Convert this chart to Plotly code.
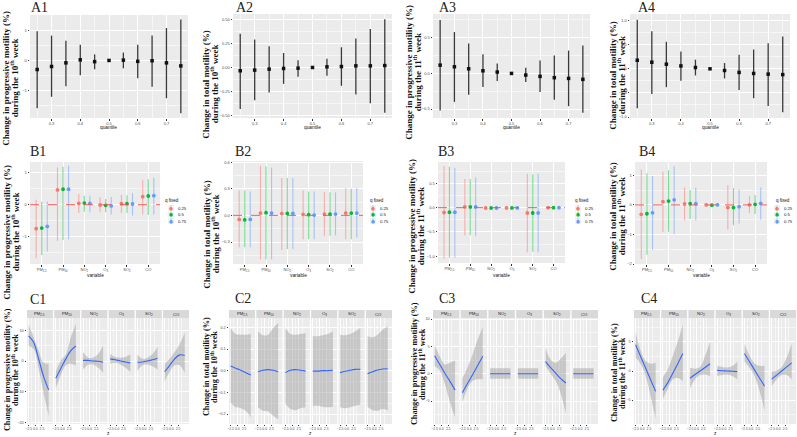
import plotly.graph_objects as go

W, H = 797, 437

# ---------- data ----------
QUANTILES = [0.25, 0.30, 0.35, 0.40, 0.45, 0.50, 0.55, 0.60, 0.65, 0.70, 0.75]

A1_EST = [-0.30, -0.20, -0.08, 0.02, -0.04, 0.00, 0.01, -0.03, -0.01, -0.08, -0.18]
A1_HI = [0.96, 0.82, 0.65, 0.52, 0.20, 0.00, 0.26, 0.52, 0.82, 1.07, 1.35]
A1_LO = [-1.58, -1.20, -0.85, -0.49, -0.29, 0.00, -0.26, -0.59, -0.87, -1.25, -1.74]

A2_EST = [-0.034, -0.027, -0.017, -0.010, -0.007, 0.0, 0.007, 0.010, 0.017, 0.017, 0.020]
A2_HI = [0.35, 0.29, 0.22, 0.15, 0.075, 0.0, 0.09, 0.21, 0.30, 0.40, 0.50]
A2_LO = [-0.43, -0.34, -0.26, -0.17, -0.096, 0.0, -0.085, -0.19, -0.28, -0.37, -0.47]

A3_EST = [0.116, 0.093, 0.065, 0.037, 0.019, 0.0, -0.023, -0.042, -0.060, -0.070, -0.083]
A3_HI = [0.75, 0.58, 0.42, 0.27, 0.14, 0.0, 0.08, 0.18, 0.25, 0.32, 0.39]
A3_LO = [-0.52, -0.40, -0.30, -0.19, -0.106, 0.0, -0.12, -0.26, -0.37, -0.46, -0.55]

A4_EST = [0.178, 0.137, 0.096, 0.060, 0.027, 0.0, -0.034, -0.075, -0.096, -0.110, -0.120]
A4_HI = [1.02, 0.78, 0.56, 0.36, 0.19, 0.0, 0.12, 0.29, 0.40, 0.53, 0.67]
A4_LO = [-0.82, -0.52, -0.38, -0.25, -0.137, 0.0, -0.20, -0.44, -0.61, -0.77, -0.90]

VARIABLES = ["PM<sub>2.5</sub>", "PM<sub>10</sub>", "NO<sub>2</sub>", "O<sub>3</sub>",
             "SO<sub>2</sub>", "CO"]
Q_FIXED = ["0.25", "0.5", "0.75"]

# rows = q fixed 0.25 / 0.5 / 0.75, columns = VARIABLES
B1_EST = [[-0.75, 0.46, 0.04, -0.01, 0.03, 0.25],
          [-0.73, 0.48, 0.05, -0.02, 0.03, 0.27],
          [-0.68, 0.48, 0.04, -0.04, 0.02, 0.28]]
B1_HI = [[0.15, 1.16, 0.33, 0.23, 0.31, 0.77],
         [0.09, 1.18, 0.28, 0.18, 0.29, 0.79],
         [0.10, 1.21, 0.28, 0.24, 0.36, 0.84]]
B1_LO = [[-1.67, -1.13, -0.26, -0.24, -0.26, -0.31],
         [-1.57, -1.10, -0.22, -0.24, -0.26, -0.32],
         [-1.46, -1.08, -0.24, -0.31, -0.34, -0.31]]

B2_EST = [[-0.045, 0.026, 0.020, 0.011, 0.015, 0.026],
          [-0.050, 0.030, 0.022, 0.008, 0.015, 0.026],
          [-0.045, 0.026, 0.022, 0.004, 0.015, 0.026]]
B2_HI = [[0.28, 0.56, 0.42, 0.28, 0.26, 0.31],
         [0.28, 0.555, 0.42, 0.27, 0.26, 0.30],
         [0.27, 0.54, 0.42, 0.27, 0.26, 0.31]]
B2_LO = [[-0.36, -0.495, -0.39, -0.27, -0.23, -0.27],
         [-0.36, -0.495, -0.38, -0.27, -0.23, -0.27],
         [-0.36, -0.495, -0.38, -0.27, -0.225, -0.25]]

B3_EST = [[-0.10, 0.014, -0.007, -0.005, -0.11, 0.0],
          [-0.095, 0.014, -0.007, -0.005, -0.11, 0.0],
          [-0.095, 0.014, -0.007, -0.005, -0.11, 0.0]]
B3_HI = [[0.86, 0.59, 0.02, 0.015, 0.70, 0.02],
         [0.84, 0.59, 0.02, 0.015, 0.69, 0.02],
         [0.82, 0.62, 0.02, 0.015, 0.70, 0.02]]
B3_LO = [[-1.05, -0.57, -0.03, -0.025, -0.92, -0.02],
         [-1.03, -0.57, -0.03, -0.025, -0.91, -0.02],
         [-1.03, -0.59, -0.03, -0.025, -0.92, -0.02]]

B4_EST = [[-0.32, 0.11, 0.03, 0.0, -0.09, 0.0],
          [-0.30, 0.13, 0.04, -0.01, -0.09, 0.02],
          [-0.27, 0.17, 0.04, 0.0, -0.06, 0.05]]
B4_HI = [[1.20, 1.12, 0.59, 0.05, 0.67, 0.29],
         [1.07, 1.17, 0.50, 0.04, 0.57, 0.33],
         [0.98, 1.31, 0.59, 0.05, 0.51, 0.59]]
B4_LO = [[-1.83, -0.91, -0.52, -0.05, -0.83, -0.28],
         [-1.69, -0.91, -0.48, -0.06, -0.69, -0.31],
         [-1.52, -0.99, -0.52, -0.05, -0.63, -0.50]]

FACETS = ["PM<sub>2.5</sub>", "PM<sub>10</sub>", "NO<sub>2</sub>", "O<sub>3</sub>",
          "SO<sub>2</sub>", "CO"]
Z_GRID = [-2.5, -0.625, 1.25, 3.125, 5.0]

C1_FIT = [[8.2, 6.1, 0.7, -5.1, -9.4], [-5.6, -2.4, 0.7, 3.4, 4.9], [0.2, 0.2, 0.0, -0.1, -0.4],
          [0.7, 0.4, 0.0, -0.3, -0.6], [-0.4, -0.3, 0.0, 0.4, 0.9], [-3.5, -1.4, 0.7, 2.0, 1.8]]
C1_HI = [[11.9, 7.7, 3.4, -0.6, -0.9], [-3.5, 0.2, 2.1, 7.7, 12.1], [2.9, 1.1, 1.1, 2.3, 5.0],
         [2.3, 1.3, 1.1, 1.3, 2.1], [2.1, 0.7, 1.1, 2.3, 4.5], [-0.9, 0.7, 2.9, 5.5, 9.3]]
C1_LO = [[5.0, 3.9, -2.4, -10.4, -17.9], [-8.8, -4.6, -1.4, -0.9, -1.4], [-2.8, -1.2, -1.1, -2.1, -3.8],
         [-0.9, -0.6, -1.1, -2.1, -3.5], [-3.2, -1.4, -1.1, -1.7, -2.8], [-6.7, -3.5, -1.4, -1.4, -4.0]]

C2_FIT = [[0.021, 0.011, 0.002, -0.009, -0.020], [-0.005, 0.002, 0.005, 0.002, -0.005],
          [-0.009, 0.002, 0.005, 0.002, -0.002], [-0.002, -0.002, 0.0, 0.0, 0.002],
          [-0.009, -0.003, 0.002, 0.006, 0.006], [-0.014, -0.005, 0.003, 0.008, 0.009]]
C2_HI = [[0.197, 0.169, 0.166, 0.166, 0.169], [0.182, 0.163, 0.166, 0.197, 0.220],
         [0.197, 0.169, 0.166, 0.169, 0.174], [0.159, 0.159, 0.163, 0.169, 0.182],
         [0.166, 0.163, 0.169, 0.182, 0.197], [0.159, 0.154, 0.166, 0.189, 0.205]]
C2_LO = [[-0.147, -0.169, -0.173, -0.185, -0.215], [-0.169, -0.185, -0.188, -0.208, -0.223],
         [-0.154, -0.177, -0.182, -0.173, -0.169], [-0.162, -0.162, -0.166, -0.169, -0.166],
         [-0.169, -0.173, -0.169, -0.162, -0.157], [-0.166, -0.182, -0.185, -0.177, -0.182]]

C3_FIT = [[3.3, 1.7, 0.1, -1.4, -3.0], [-3.5, -1.8, -0.2, 1.5, 3.2], [0.0, 0.0, 0.0, 0.0, 0.0],
          [0.0, 0.0, 0.0, 0.0, 0.0], [2.2, 1.1, 0.1, -0.9, -1.7], [0.0, 0.0, 0.0, 0.0, 0.0]]
C3_HI = [[5.2, 3.2, 1.7, 2.0, 2.4], [-0.8, 1.1, 3.5, 6.2, 8.6], [1.0, 1.0, 1.0, 1.0, 1.0],
         [1.0, 1.0, 1.0, 1.0, 1.0], [4.7, 2.6, 2.0, 2.8, 3.8], [1.0, 1.0, 1.0, 1.0, 1.0]]
C3_LO = [[1.4, 0.6, -1.9, -5.2, -8.0], [-5.2, -2.8, -1.3, -1.0, -1.0], [-0.9, -0.9, -0.9, -0.9, -0.9],
         [-0.9, -0.9, -0.9, -0.9, -0.9], [1.4, 0.0, -1.3, -3.7, -7.3], [-0.9, -0.9, -0.9, -0.9, -0.9]]

C4_FIT = [[4.5, 2.5, 0.5, -1.5, -3.5], [-3.3, -2.0, -0.4, 1.3, 3.0], [-1.25, -0.6, 0.0, 0.6, 1.25],
          [0.1, 0.05, 0.0, -0.05, -0.1], [3.0, 1.6, 0.2, -1.2, -2.6], [-1.4, -0.7, 0.0, 0.7, 1.4]]
C4_HI = [[6.6, 3.5, 1.7, 1.25, 1.4], [-1.1, 0.3, 2.6, 5.1, 8.0], [0.6, 0.4, 0.7, 2.6, 5.0],
         [0.85, 0.7, 0.6, 0.85, 1.6], [4.7, 2.7, 1.3, 0.9, 0.9], [-0.1, 0.1, 0.7, 2.3, 4.7]]
C4_LO = [[2.3, 1.2, -0.8, -4.3, -8.2], [-4.8, -3.0, -1.4, -1.2, -1.7], [-3.0, -1.4, -0.7, -0.6, -0.85],
         [-0.85, -0.7, -0.6, -0.85, -1.4], [1.6, 0.6, -0.85, -3.4, -6.8], [-2.6, -1.4, -0.7, -0.7, -1.4]]

PROG = "Change in progressive motility (%)"
TOTAL = "Change in total motility (%)"
WEEK10 = "during the 10<sup>th</sup> week"
WEEK11 = "during the 11<sup>th</sup> week"

# ---------- styles ----------
Q_COLORS = ["#F8766D", "#00BA38", "#619CFF"]
Q_FADED = ["rgba(248,118,109,0.5)", "rgba(0,186,56,0.5)", "rgba(97,156,255,0.5)"]
DODGE = [-0.26, 0.0, 0.26]
TICK_FONT = dict(family="Liberation Sans", size=4, color="#4D4D4D")
TITLE_FONT = dict(family="Liberation Serif", size=9, color="#111111")
LABEL_FONT = dict(family="Liberation Serif", size=14, color="#222222")
SMALL_FONT = dict(family="Liberation Sans", size=4.8, color="#111111")
MINOR_GRID = "rgba(255,255,255,0.55)"

fig = go.Figure()
n_axes = [0]


def px_x(p):
    return p / W


def px_y(p):
    return 1 - p / H


def axis_style(**kw):
    d = dict(showgrid=True, gridcolor="white", gridwidth=0.6, zeroline=False, showline=False,
             ticks="outside", ticklen=1.5, tickwidth=0.4, tickcolor="#333333",
             tickfont=TICK_FONT, fixedrange=True, automargin=False, tickangle=0)
    d.update(kw)
    return d


def pane(x0, x1, y0, y1, xopts, yopts):
    n_axes[0] += 1
    n = n_axes[0]
    sfx = "" if n == 1 else str(n)
    fig.update_layout(**{
        f"xaxis{sfx}": dict(domain=[px_x(x0), px_x(x1)], anchor=f"y{sfx}", **xopts),
        f"yaxis{sfx}": dict(domain=[px_y(y1), px_y(y0)], anchor=f"x{sfx}", **yopts),
    })
    return f"x{sfx}", f"y{sfx}"


def note(text, x, y, font, **kw):
    fig.add_annotation(text=text, x=px_x(x), y=px_y(y), xref="paper", yref="paper",
                       showarrow=False, font=font, **kw)


def y_title(cx, cy, line1, line2, size=9):
    # two separate rotated lines, set closer together than plotly's own line height
    f = dict(TITLE_FONT, size=size)
    gap = size * 0.48
    note(f"<b>{line1}</b>", cx - gap, cy, f, textangle=-90, xanchor="center", yanchor="middle")
    note(f"<b>{line2}</b>", cx + gap, cy, f, textangle=-90, xanchor="center", yanchor="middle")


# ---------- row A: quantile estimates ----------
A_PANELS = [
    dict(label="A1", est=A1_EST, lo=A1_LO, hi=A1_HI, box=(30, 188, 15, 118), yr=[-1.9, 1.5],
         dtick=1, fmt="", title=(PROG, WEEK10), tpos=(10, 78), lpos=(29, -2)),
    dict(label="A2", est=A2_EST, lo=A2_LO, hi=A2_HI, box=(233, 392, 14, 118), yr=[-0.524, 0.555],
         dtick=0.25, fmt=".2f", title=(TOTAL, WEEK10), tpos=(210, 84), lpos=(234, -2)),
    dict(label="A3", est=A3_EST, lo=A3_LO, hi=A3_HI, box=(433, 590, 14, 118), yr=[-0.625, 0.833],
         dtick=0.5, fmt=".1f", title=(PROG, WEEK11), tpos=(413, 72), lpos=(437, -2)),
    dict(label="A4", est=A4_EST, lo=A4_LO, hi=A4_HI, box=(630, 790, 14, 118), yr=[-1.02, 1.137],
         dtick=0.5, fmt=".1f", title=(TOTAL, WEEK11), tpos=(617, 75), lpos=(636, -2)),
]

for p in A_PANELS:
    x0, x1, y0, y1 = p["box"]
    xa, ya = pane(x0, x1, y0, y1,
                  axis_style(range=[0.225, 0.775], tick0=0, dtick=0.1, tickformat=".1f",
                             minor=dict(showgrid=True, gridcolor=MINOR_GRID, gridwidth=0.3,
                                        tick0=0.05, dtick=0.1)),
                  axis_style(range=p["yr"], tick0=0, dtick=p["dtick"], tickformat=p["fmt"],
                             minor=dict(showgrid=True, gridcolor=MINOR_GRID, gridwidth=0.3,
                                        tick0=p["dtick"] / 2, dtick=p["dtick"])))
    fig.add_trace(go.Scatter(
        x=QUANTILES, y=p["est"], mode="markers", xaxis=xa, yaxis=ya,
        marker=dict(symbol="square", size=3.5, color="#111111"),
        error_y=dict(type="data", symmetric=False,
                     array=[h - e for h, e in zip(p["hi"], p["est"])],
                     arrayminus=[e - l for e, l in zip(p["est"], p["lo"])],
                     color="#3a3a3a", thickness=1.3, width=0),
        hoverinfo="skip"))
    note(p["label"], p["lpos"][0], p["lpos"][1], LABEL_FONT, xanchor="left", yanchor="top")
    y_title(p["tpos"][0], p["tpos"][1], *p["title"])
    note("quantile", (x0 + x1) / 2, 128, SMALL_FONT, xanchor="center", yanchor="middle")

# ---------- row B: pollutant effects by q fixed ----------
B_PANELS = [
    dict(label="B1", est=B1_EST, lo=B1_LO, hi=B1_HI, box=(30, 160, 162, 264), yr=[-1.85, 1.33],
         dtick=1, fmt="", title=(PROG, WEEK10), tpos=(11, 232), lpos=(28, 142), leg=(163, 171)),
    dict(label="B2", est=B2_EST, lo=B2_LO, hi=B2_HI, box=(233, 363, 161, 264), yr=[-0.548, 0.613],
         dtick=0.3, fmt=".1f", title=(TOTAL, WEEK10), tpos=(211, 234), lpos=(233, 142), leg=(368, 373)),
    dict(label="B3", est=B3_EST, lo=B3_LO, hi=B3_HI, box=(438, 565, 162, 263), yr=[-1.14, 0.94],
         dtick=0.5, fmt=".1f", title=(PROG, WEEK11), tpos=(416, 226), lpos=(436, 142), leg=(573, 578)),
    dict(label="B4", est=B4_EST, lo=B4_LO, hi=B4_HI, box=(635, 767, 162, 264), yr=[-2.0, 1.45],
         dtick=1, fmt="", title=(TOTAL, WEEK11), tpos=(617, 216), lpos=(637, 142), leg=(774, 777)),
]

LEGEND_ROWS = [208, 214.5, 221]

for p in B_PANELS:
    x0, x1, y0, y1 = p["box"]
    xa, ya = pane(x0, x1, y0, y1,
                  axis_style(range=[-0.55, 5.55], tickmode="array",
                             tickvals=list(range(len(VARIABLES))), ticktext=VARIABLES),
                  axis_style(range=p["yr"], tick0=0, dtick=p["dtick"], tickformat=p["fmt"],
                             minor=dict(showgrid=True, gridcolor=MINOR_GRID, gridwidth=0.3,
                                        tick0=p["dtick"] / 2, dtick=p["dtick"])))
    fig.add_shape(type="line", xref=f"{xa} domain", yref=ya, x0=0, x1=1, y0=0, y1=0,
                  line=dict(color="#F0504A", width=0.9, dash="dash"))
    for qi in range(len(Q_FIXED)):
        est, hi, lo = p["est"][qi], p["hi"][qi], p["lo"][qi]
        fig.add_trace(go.Scatter(
            x=[i + DODGE[qi] for i in range(len(VARIABLES))], y=est, mode="markers",
            xaxis=xa, yaxis=ya,
            marker=dict(symbol="circle", size=3.8, color=Q_COLORS[qi]),
            error_y=dict(type="data", symmetric=False,
                         array=[h - e for h, e in zip(hi, est)],
                         arrayminus=[e - l for e, l in zip(est, lo)],
                         color=Q_FADED[qi], thickness=1.1, width=0),
            hoverinfo="skip"))
    note(p["label"], p["lpos"][0], p["lpos"][1], LABEL_FONT, xanchor="left", yanchor="top")
    y_title(p["tpos"][0], p["tpos"][1], *p["title"])
    note("variable", (x0 + x1) / 2, 275, SMALL_FONT, xanchor="center", yanchor="middle")
    # legend "q fixed"
    lx, kx = p["leg"]
    note("q fixed", lx, 201, dict(SMALL_FONT, size=4.5), xanchor="left", yanchor="middle")
    for qi, q in enumerate(Q_FIXED):
        ky = LEGEND_ROWS[qi]
        fig.add_shape(type="rect", xref="paper", yref="paper",
                      x0=px_x(kx - 3), x1=px_x(kx + 3), y0=px_y(ky + 3), y1=px_y(ky - 3),
                      fillcolor="#F2F2F2", line=dict(width=0))
        fig.add_shape(type="line", xref="paper", yref="paper",
                      x0=px_x(kx), x1=px_x(kx), y0=px_y(ky + 2.8), y1=px_y(ky - 2.8),
                      line=dict(color=Q_FADED[qi], width=1))
        note(f'<span style="color:{Q_COLORS[qi]}">●</span>', kx, ky,
             dict(family="DejaVu Sans", size=4.5), xanchor="center", yanchor="middle")
        note(q, kx + 5, ky, dict(SMALL_FONT, size=4.2), xanchor="left", yanchor="middle")

# ---------- row C: smooth fits by pollutant ----------
C_PANELS = [
    dict(label="C1", fit=C1_FIT, lo=C1_LO, hi=C1_HI, span=(27, 189), yr=[-20.5, 14.0],
         dtick=10, fmt="", title=(PROG, WEEK10), tpos=(11, 370), lpos=(28, 290)),
    dict(label="C2", fit=C2_FIT, lo=C2_LO, hi=C2_HI, span=(229, 392), yr=[-0.246, 0.243],
         dtick=0.1, fmt=".1f", title=(TOTAL, WEEK10), tpos=(210, 367), lpos=(233, 289)),
    dict(label="C3", fit=C3_FIT, lo=C3_LO, hi=C3_HI, span=(433, 598), yr=[-9.2, 10.2],
         dtick=5, fmt="", title=(PROG, WEEK11), tpos=(418, 364), lpos=(437, 289)),
    dict(label="C4", fit=C4_FIT, lo=C4_LO, hi=C4_HI, span=(634, 796), yr=[-9.1, 9.1],
         dtick=5, fmt="", title=(TOTAL, WEEK11), tpos=(618, 373), lpos=(639, 289)),
]

GAP = 1.3
STRIP_TOP, PANEL_TOP, PANEL_BOTTOM = 310, 318, 424

for p in C_PANELS:
    sx0, sx1 = p["span"]
    fw = (sx1 - sx0 - GAP * (len(FACETS) - 1)) / len(FACETS)
    for k, name in enumerate(FACETS):
        fx0 = sx0 + k * (fw + GAP)
        fx1 = fx0 + fw
        first = k == 0
        xa, ya = pane(fx0, fx1, PANEL_TOP, PANEL_BOTTOM,
                      axis_style(range=[-3.1, 6.6], tickmode="array", tickvals=[-2.5, 0, 2.5],
                                 tickformat=".1f", tickfont=dict(TICK_FONT, size=3.4), ticklen=1,
                                 minor=dict(showgrid=True, gridcolor=MINOR_GRID, gridwidth=0.3,
                                            tickmode="array", tickvals=[-1.25, 1.25, 3.75])),
                      axis_style(range=p["yr"], tick0=0, dtick=p["dtick"], tickformat=p["fmt"],
                                 showticklabels=first, ticks="outside" if first else "",
                                 tickfont=dict(TICK_FONT, size=3.8),
                                 minor=dict(showgrid=True, gridcolor=MINOR_GRID, gridwidth=0.3,
                                            tick0=p["dtick"] / 2, dtick=p["dtick"])))
        fig.add_trace(go.Scatter(x=Z_GRID, y=p["lo"][k], mode="lines", xaxis=xa, yaxis=ya,
                                 line=dict(width=0, shape="spline"), hoverinfo="skip"))
        fig.add_trace(go.Scatter(x=Z_GRID, y=p["hi"][k], mode="lines", xaxis=xa, yaxis=ya,
                                 line=dict(width=0, shape="spline"), fill="tonexty",
                                 fillcolor="rgba(153,153,153,0.45)", hoverinfo="skip"))
        fig.add_trace(go.Scatter(x=Z_GRID, y=p["fit"][k], mode="lines", xaxis=xa, yaxis=ya,
                                 line=dict(color="#3366FF", width=1.1, shape="spline"),
                                 hoverinfo="skip"))
        fig.add_shape(type="rect", xref="paper", yref="paper",
                      x0=px_x(fx0), x1=px_x(fx1), y0=px_y(PANEL_TOP), y1=px_y(STRIP_TOP),
                      fillcolor="#D9D9D9", line=dict(width=0))
        note(name, (fx0 + fx1) / 2, (STRIP_TOP + PANEL_TOP) / 2,
             dict(family="Liberation Sans", size=4.2, color="#1A1A1A"),
             xanchor="center", yanchor="middle")
    note(p["label"], p["lpos"][0], p["lpos"][1], LABEL_FONT, xanchor="left", yanchor="top")
    y_title(p["tpos"][0], p["tpos"][1], *p["title"], size=8.2)
    note("z", (sx0 + sx1) / 2, 433, SMALL_FONT, xanchor="center", yanchor="middle")

fig.update_layout(
    width=W, height=H, autosize=False,
    margin=dict(l=0, r=0, t=0, b=0),
    paper_bgcolor="white", plot_bgcolor="#EBEBEB",
    showlegend=False,
)

# drop the default 8px page margin so the figure sits at the window's corner
fig.write_html("out.html", config={"displayModeBar": False},
               post_script="document.body.style.margin='0';document.body.style.overflow='hidden';")
